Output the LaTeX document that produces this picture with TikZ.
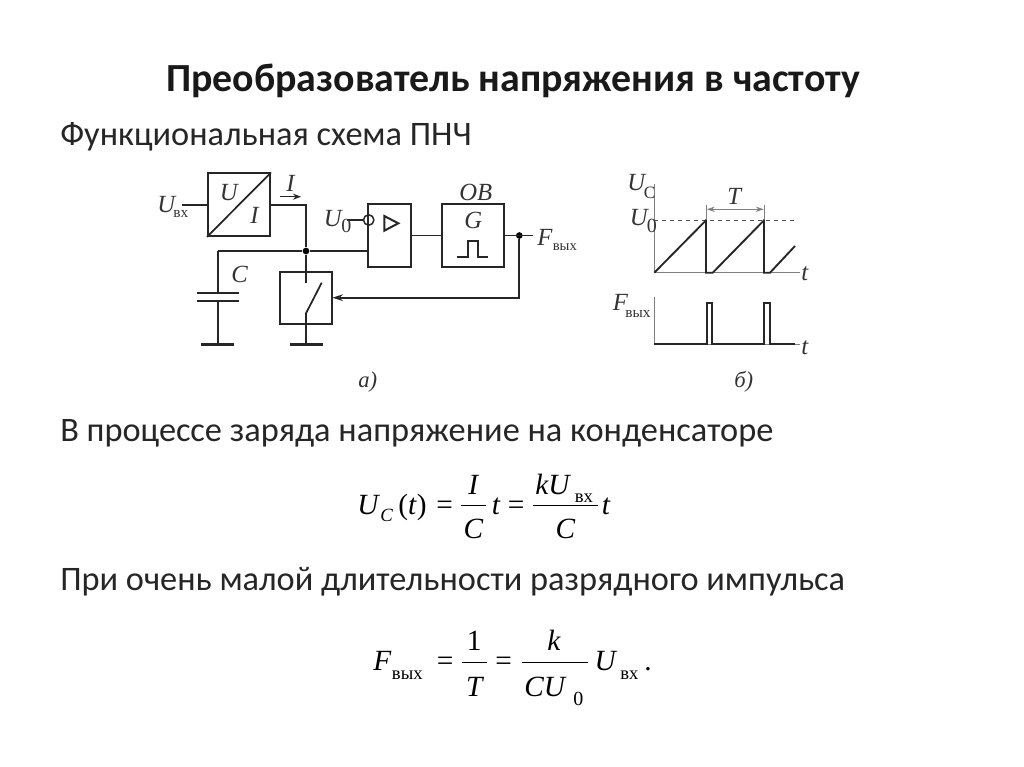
\documentclass[tikz,border=0pt]{standalone}
\usepackage{fontspec}
\setmainfont{Carlito}
\newfontfamily\fser{Liberation Serif}
\usetikzlibrary{arrows.meta}
\def\px{0.75pt}
\newcommand{\fs}[1]{\fontsize{#1}{#1}\selectfont}
\tikzset{
  x=0.75pt,y=-0.75pt,
  wire/.style={line width=1.3pt,draw=black!85},
  thin axis/.style={line width=0.7pt,draw=black!50},
  thick trace/.style={line width=1.4pt,draw=black!85},
  gnd/.style={line width=2.5pt,draw=black!85},
  block/.style={draw=black!85,line width=1.3pt,fill=none,inner sep=0pt,rectangle},
  dot/.style={circle,fill=black,inner sep=0pt,minimum size=5pt},
  ttl/.style={font=\bfseries\fs{29.9},text=black!90,inner sep=0pt,anchor=base},
  body/.style={font=\fs{25.75},text=black!85,inner sep=0pt,anchor=base west},
  lab/.style={font=\fser\itshape\fs{18.5},text=black!80,inner sep=0pt,anchor=base west},
  labr/.style={font=\fser\fs{18.5},text=black!80,inner sep=0pt,anchor=base west},
  sub/.style={font=\fser\fs{11.5},text=black!80,inner sep=0pt,anchor=base west},
  fm/.style={font=\fser\itshape\fs{22},text=black,inner sep=0pt,anchor=base west},
  fmc/.style={font=\fser\itshape\fs{22},text=black,inner sep=0pt,anchor=base},
  fmr/.style={font=\fser\fs{22},text=black,inner sep=0pt,anchor=base west},
  fmrc/.style={font=\fser\fs{22},text=black,inner sep=0pt,anchor=base},
  fsub/.style={font=\fser\fs{14},text=black,inner sep=0pt,anchor=base west},
  fsubi/.style={font=\fser\itshape\fs{14},text=black,inner sep=0pt,anchor=base west},
  rule/.style={line width=1.1pt,draw=black},
}
\begin{document}
\begin{tikzpicture}
\useasboundingbox (0,0) rectangle (1024,767);
\fill[white] (0,0) rectangle (1024,767);

% texts
\node[ttl] (title) at (513,91) {Преобразователь напряжения в частоту};
\node[body] (l1) at (60,145) {Функциональная схема ПНЧ};
\node[body] (l2) at (60,441) {В процессе заряда напряжение на конденсаторе};
\node[body] (l3) at (60,590) {При очень малой длительности разрядного импульса};

% circuit blocks
\node[block,minimum width=62.3*\px,minimum height=62.7*\px] (ui) at (239,204.7) {};
\node[block,minimum width=42.4*\px,minimum height=63*\px] (comp) at (389.5,235.5) {};
\node[block,minimum width=62.3*\px,minimum height=63*\px] (gen) at (473,235.5) {};
\node[block,minimum width=52.3*\px,minimum height=52*\px] (sw) at (306.2,298.3) {};
\draw[wire] (ui.south west) -- (ui.north east);

% named points
\coordinate (uin) at (181.7,204.7);
\coordinate (ibend) at (306,204.7);
\node[dot] (j1) at (306,251) {};
\coordinate (cl) at (217.7,251);
\coordinate (compin) at (368.3,251);
\coordinate (u0in) at (347.3,220);
\node[draw=black!85,line width=1.1pt,circle,inner sep=0pt,minimum size=10.4*\px] (ring) at (368.7,220) {};
\coordinate (captop) at (217.7,292.7);
\coordinate (capbot) at (217.7,300.7);
\coordinate (capg) at (217.7,344.3);
\coordinate (swa) at (306,282.7);
\coordinate (swb) at (306,313.3);
\coordinate (swc) at (321.7,282.7);
\coordinate (swg) at (306,344.3);
\node[dot] (j2) at (519.3,235.5) {};
\coordinate (fout) at (533.3,235.5);
\coordinate (fb) at (519.3,297.7);
\coordinate (swin) at (332.3,297.7);

% connectors
\draw[wire] (uin) -- (ui.west);
\draw[wire] (ui.east) -- (ibend) -- (j1);
\draw[wire] (cl) -- (j1) -- (compin);
\draw[wire] (j1) -- (swa);
\draw[wire] (cl) -- (captop);
\draw[wire] (capbot) -- (capg);
\draw[wire] (swb) -- (swg);
\draw[wire] (swb) -- (swc);
\draw[wire] (u0in) -- (ring.west);
\draw[wire] (comp.east) -- (gen.west);
\draw[wire] (gen.east) -- (fout);
\draw[wire,-{Stealth[length=8pt,width=5pt]}] (j2) -- (fb) -- (swin);
\draw[wire] (196.7,292.7) -- (239,292.7);
\draw[wire] (196.7,300.7) -- (239,300.7);
\draw[gnd] (201,344.3) -- (234.3,344.3);
\draw[gnd] (290,344.3) -- (322.7,344.3);
\draw[wire,line width=1.5pt] (384.3,216) -- (398.3,223.3) -- (384.3,230.7) -- cycle;
\draw[wire] (456.7,256.7) -- (467.7,256.7) -- (467.7,240.7) -- (478.3,240.7) -- (478.3,256.7) -- (488.3,256.7);
\draw[wire,line width=1pt,-{Stealth[length=6pt,width=4.5pt]}] (280,196.7) -- (301,196.7);

% circuit labels
\node[lab] (u1) at (157,212.7) {U};
\node[sub] (u1s) at (173,217.3) {вх};
\node[lab] (ii) at (286,191.7) {I};
\node[lab] (bu) at (219.5,200.7) {U};
\node[lab] (bi) at (250,223.3) {I};
\node[lab] (u0) at (323.5,226.7) {U};
\node[labr,font=\fser\fs{15}] (u0s) at (341,232.7) {0};
\node[lab] (ob) at (459,200) {OB};
\node[lab] (gg) at (464,228.3) {G};
\node[lab] (ff) at (537,245) {F};
\node[sub,font=\fser\fs{11}] (ffs) at (552.5,250.5) {вых};
\node[lab] (cc) at (231,282.7) {C};
\node[lab,font=\fser\itshape\fs{17}] (ca) at (358,387) {а)};

% graphs
\coordinate (a0) at (654.3,184);
\coordinate (a1) at (654.3,272.7);
\coordinate (a2) at (800,272.7);
\coordinate (b0) at (654.3,297.3);
\coordinate (b1) at (654.3,344.3);
\coordinate (b2) at (800,344.3);
\coordinate (d0) at (654.3,220.3);
\coordinate (d1) at (795,220.3);
\draw[thin axis] (a0) -- (a1) -- (a2);
\draw[thin axis] (b0) -- (b1) -- (b2);
\draw[line width=0.6pt,draw=black!70,dashed] (d0) -- (d1);
\draw[thick trace] (654.3,272.7) -- (706,220.3) -- (706,272.7) -- (712.7,272.7) -- (764,220.3) -- (764,272.7) -- (770,272.7) -- (795,246);
\draw[thick trace] (654.3,344.3) -- (706.7,344.3) -- (706.7,303.3) -- (712.3,303.3) -- (712.3,344.3) -- (764,344.3) -- (764,303.3) -- (770,303.3) -- (770,344.3) -- (795,344.3);
\draw[thin axis] (706.5,205) -- (706.5,220);
\draw[thin axis] (764,205) -- (764,220);
\draw[thin axis,{Stealth[length=6pt,width=4pt]}-{Stealth[length=6pt,width=4pt]}] (706.8,209.3) -- (763.7,209.3);

\node[lab] (guc) at (627,190.7) {U};
\node[labr,font=\fser\fs{13}] (gucs) at (643.5,198) {C};
\node[lab] (gu0) at (629.5,225) {U};
\node[labr,font=\fser\fs{15}] (gu0s) at (646.5,232.7) {0};
\node[lab] (gt) at (727,204) {T};
\node[lab] (gt1) at (801,280.7) {t};
\node[lab] (gf) at (612.5,310.7) {F};
\node[sub] (gfs) at (625,317.3) {вых};
\node[lab] (gt2) at (801,354) {t};
\node[lab,font=\fser\itshape\fs{17}] (cb) at (734,387.5) {б)};

% formula 1
\node[fm] (f1a) at (357,514) {U};
\node[fsubi] (f1b) at (380,521) {C};
\node[fmr] (f1c) at (398,514) {(\textit{t})};
\node[fmr] (f1d) at (436,514) {=};
\node[fmc] (f1e) at (473.3,494) {I};
\node[fmc] (f1f) at (473.3,538) {C};
\draw[rule] (460.7,505.7) -- (486,505.7);
\node[fm] (f1g) at (491.7,514) {t};
\node[fmr] (f1h) at (507.5,514) {=};
\node[fm] (f1i) at (535,494) {kU};
\node[fsub] (f1j) at (574.5,502.7) {вх};
\node[fmc] (f1k) at (565.5,538) {C};
\draw[rule] (533.3,505.7) -- (598.3,505.7);
\node[fm] (f1l) at (601.7,514) {t};

% formula 2
\node[fm] (f2a) at (373,670) {F};
\node[fsub] (f2b) at (391.7,679.3) {вых};
\node[fmr] (f2c) at (436.5,670) {=};
\node[fmrc] (f2d) at (474.3,650) {1};
\node[fmc] (f2e) at (474.3,696.7) {T};
\draw[rule] (462.3,662.3) -- (486.7,662.3);
\node[fmr] (f2f) at (495,670) {=};
\node[fmc] (f2g) at (554,650) {k};
\draw[rule] (521.7,662.3) -- (588.3,662.3);
\node[fm] (f2h) at (524,696.7) {CU};
\node[fsub,font=\fser\fs{15}] (f2i) at (573,705) {0};
\node[fm] (f2j) at (594.3,670) {U};
\node[fsub] (f2k) at (620,679.3) {вх};
\node[fmr] (f2l) at (644,670) {.};
\end{tikzpicture}
\end{document}
